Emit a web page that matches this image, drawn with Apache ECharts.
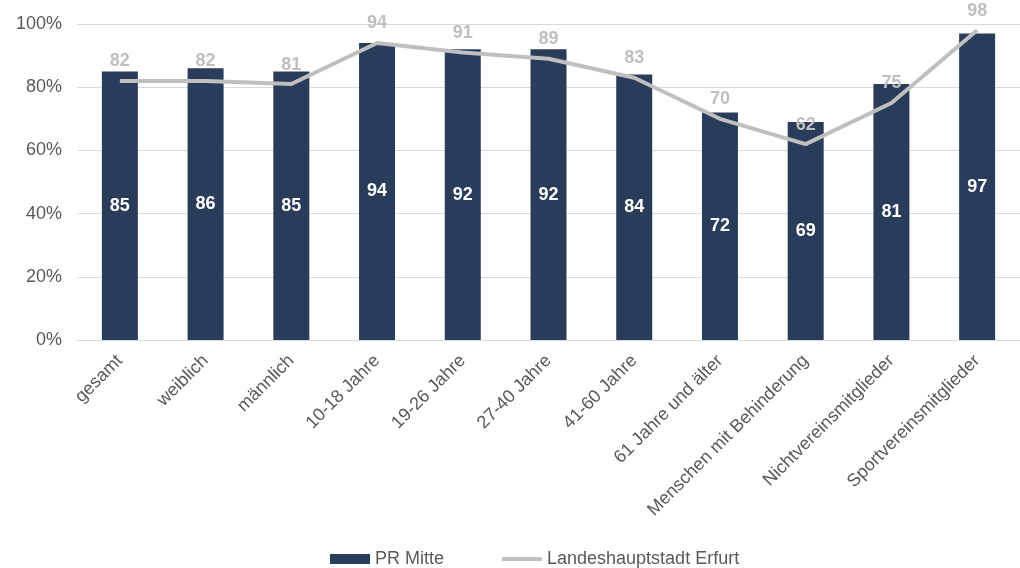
<!DOCTYPE html>
<html><head><meta charset="utf-8">
<script src="https://cdn.jsdelivr.net/npm/echarts@6/dist/echarts.min.js"></script>
<style>html,body{margin:0;padding:0;background:#fff}#c{width:1020px;height:568px}</style>
</head><body><div id="c"></div>
<script>
const categories = ["gesamt","weiblich","männlich","10-18 Jahre","19-26 Jahre","27-40 Jahre","41-60 Jahre","61 Jahre und älter","Menschen mit Behinderung","Nichtvereinsmitglieder","Sportvereinsmitglieder"];
const prMitte = [85,86,85,94,92,92,84,72,69,81,97];
const erfurt = [82,82,81,94,91,89,83,70,62,75,98];
const yTicks = [0,20,40,60,80,100];

const chart = echarts.init(document.getElementById('c'));
chart.setOption({
  animation:false,
  textStyle:{fontFamily:'Liberation Sans, Arial, sans-serif'},
  grid:{left:77,right:-6,top:24,bottom:228},
  legend:{
    bottom:0,left:330,padding:0,itemGap:58,itemWidth:40,itemHeight:10,
    textStyle:{fontSize:18,color:'#595959'},
    data:[
      {name:'PR Mitte',icon:'rect'},
      {name:'Landeshauptstadt Erfurt',icon:'path://M0,0h40v4h-40z',itemStyle:{color:'#bfbfbf',opacity:1}}
    ]
  },
  xAxis:{
    type:'category',data:categories,
    axisLine:{lineStyle:{color:'#d9d9d9',width:1}},
    axisTick:{show:false},
    axisLabel:{rotate:45,fontSize:18,color:'#595959',margin:18,interval:0}
  },
  yAxis:{
    type:'value',min:yTicks[0],max:yTicks[yTicks.length-1],interval:20,
    axisLabel:{formatter:'{value}%',fontSize:18,color:'#595959',margin:15},
    axisLine:{show:false},axisTick:{show:false},
    splitLine:{lineStyle:{color:'#d9d9d9',width:1}}
  },
  series:[
    {name:'PR Mitte',type:'bar',data:prMitte,barWidth:36,
     itemStyle:{color:'#293d5b'},
     label:{show:true,position:'inside',color:'#ffffff',fontWeight:'bold',fontSize:18}},
    {name:'Landeshauptstadt Erfurt',type:'line',data:erfurt,
     symbol:'circle',symbolSize:1,showSymbol:true,
     lineStyle:{color:'#bfbfbf',width:4},itemStyle:{color:'#bfbfbf',opacity:0},
     label:{show:true,position:'top',distance:10,color:'#bfbfbf',fontWeight:'bold',fontSize:18,opacity:1}}
  ]
});
</script></body></html>
